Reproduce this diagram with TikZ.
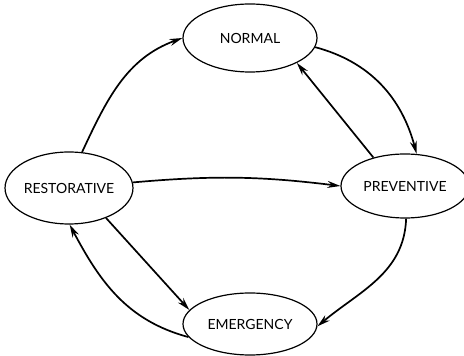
\documentclass[tikz,border=0pt]{standalone}
\usepackage{fontspec}
\setmainfont{Lato}
\usetikzlibrary{shapes.geometric,arrows.meta}
\tikzset{
  state/.style={ellipse, draw, line width=1.2pt, inner sep=0pt, font=\fontsize{14}{16}\selectfont},
  trans/.style={-{Stealth[length=13pt,width=7pt]}, line width=1.7pt},
}
\begin{document}
\begin{tikzpicture}[x=1pt,y=1pt]
    \useasboundingbox (0,0) rectangle (464,356);
    % the four states
    \node [state, minimum width=134pt, minimum height=68pt] (normal) at (250,318) {NORMAL};
    \node [state, minimum width=128pt, minimum height=64pt] (preventive) at (405,170) {PREVENTIVE};
    \node [state, minimum width=118pt, minimum height=72pt] (restorative) at (69,168) {RESTORATIVE};
    \node [state, minimum width=134pt, minimum height=62pt] (emergency) at (250,32) {EMERGENCY};
    % transitions
    \draw [trans] (restorative.70) to [out=65,in=200] (normal.180);
    \draw [trans] (normal.-8) to [out=-15,in=105] (preventive.70);
    \draw [trans] (preventive.138) -- (normal.-28);
    \draw [trans] (restorative.5) to [bend left=6] (preventive.180);
    \draw [trans] (preventive.-88) to [out=-92,in=40] (emergency.-2);
    \draw [trans] (restorative.-39) -- (emergency.167);
    \draw [trans] (emergency.192) to [out=165,in=-62] (restorative.-89);
\end{tikzpicture}
\end{document}
